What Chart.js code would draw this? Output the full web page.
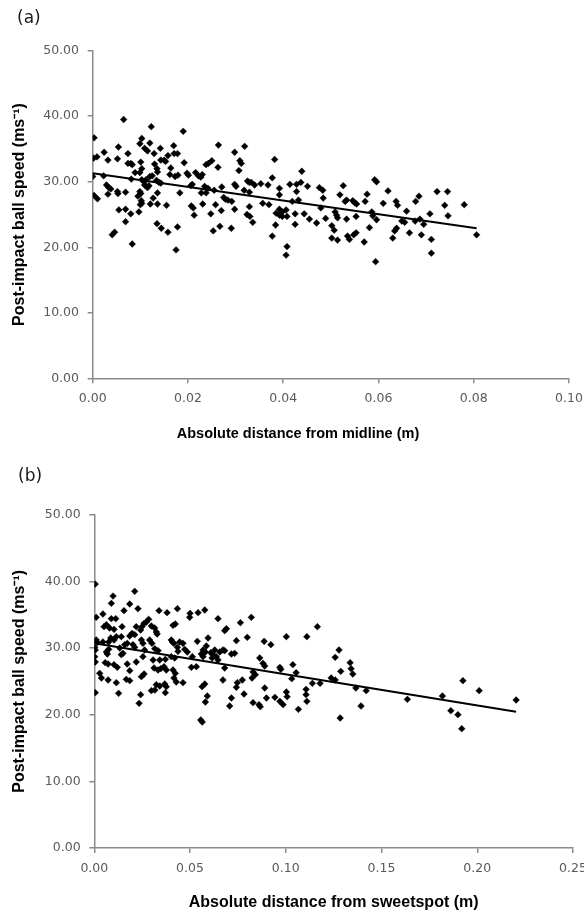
<!DOCTYPE html>
<html>
<head>
<meta charset="utf-8">
<style>
html,body{margin:0;padding:0;background:#fff;width:584px;height:915px;overflow:hidden;position:relative;}
canvas{position:absolute;left:0;}
#ca{top:0;}
#cb{top:460px;}
.lab{position:absolute;font-family:"DejaVu Sans";font-size:17px;line-height:17px;color:#1a1a1a;}
.xt{position:absolute;font-family:"Liberation Sans";font-weight:bold;color:#000;white-space:nowrap;transform:translate(-50%,-50%);}
</style>
<script src="https://cdn.jsdelivr.net/npm/chart.js@4/dist/chart.umd.min.js"></script>
</head>
<body>
<canvas id="ca" width="584" height="460"></canvas>
<canvas id="cb" width="584" height="455"></canvas>
<div class="lab" style="left:17px;top:8.5px">(a)</div>
<div class="lab" style="left:18px;top:466.5px">(b)</div>
<div class="xt" id="xta" style="left:298px;top:433px;font-size:14.5px;"></div>
<script>
// ---------- Panel (a): distance from midline ----------
const aX = [0.0065,0.0123,0.019,0.0003,0.0103,0.0099,0.012,0.017,0.0264,0.0319,0.0054,0.0109,0.0115,0.0142,0.0024,0.0074,0.0129,0.0171,0.0178,0.0298,
0.0158,0.0002,0.0009,0.0052,0.0032,0.0143,0.015,0.0153,0.025,0.0309,0.0312,0.0382,0.0074,0.008,0.0083,0.0101,0.013,0.0192,0.0238,0.0243,
0.0263,0.0164,0.0135,0.0136,0.0103,0.0307,0.0089,0.0099,0.0216,0.0198,0.0201,0.0162,0.0179,0.0173,0.0222,0.023,0.0227,0.0,0.0023,0.012,
0.0125,0.0081,0.0103,0.0108,0.0112,0.0377,0.0134,0.0139,0.0143,0.0325,0.0329,0.0333,0.0109,0.0118,0.0115,0.0209,0.0353,0.034,0.0368,0.0029,
0.0034,0.0298,0.0301,0.0206,0.0235,0.0242,0.0271,0.0392,0.0038,0.0255,0.0318,0.0052,0.0053,0.0099,0.0101,0.0228,0.0238,0.0329,0.0069,0.0183,
0.0136,0.0003,0.001,0.0032,0.0095,0.0127,0.0275,0.0279,0.0284,0.0392,0.0102,0.0103,0.01,0.0121,0.0136,0.0155,0.0231,0.0292,0.0357,0.037,
0.0207,0.0211,0.0213,0.0258,0.0298,0.0329,0.0324,0.033,0.0055,0.0069,0.008,0.0097,0.027,0.0248,0.0392,0.0398,0.0385,0.0392,0.0398,0.0406,
0.0408,0.0336,0.0069,0.0135,0.0144,0.0178,0.0158,0.0267,0.0253,0.0291,0.0384,0.0046,0.0041,0.0377,0.0083,0.0175,0.0408,0.0406,
0.0439,0.0414,0.0428,0.0437,0.0451,0.0476,0.0483,0.0526,0.0592,0.0596,0.0428,0.062,0.0723,0.0745,0.0484,0.0519,0.0576,0.0685,0.0419,0.0432,
0.053,0.0533,0.0546,0.055,0.0554,0.0572,0.061,0.0637,0.064,0.0678,0.0739,0.078,0.0479,0.0509,0.0512,0.0514,0.0586,0.0588,0.0596,0.0659,
0.0708,0.0746,0.0425,0.0444,0.0553,0.0533,0.0455,0.047,0.0489,0.0649,0.0655,0.0677,0.0687,0.0695,0.0425,0.0502,0.0507,0.0581,0.0638,0.0634,
0.0665,0.0553,0.0548,0.069,0.0535,0.0539,0.0502,0.0514,0.057,0.063,0.0711,0.0806,0.0711,0.0594];
const aY = [39.5,38.4,37.7,36.7,36.6,35.8,35.9,35.5,35.6,35.4,35.3,35.1,34.7,35.1,34.5,34.3,34.3,34.3,34.3,34.5,
34.0,33.6,33.8,33.5,33.3,33.3,33.3,33.1,33.2,33.2,32.8,33.4,32.8,32.8,32.6,33.0,32.7,32.9,32.6,32.8,
32.2,32.1,32.0,31.5,32.0,31.7,31.4,31.4,31.4,31.3,31.0,31.1,31.0,30.8,30.9,31.1,30.7,30.8,30.9,30.8,
30.9,30.4,30.3,30.0,30.3,30.6,30.2,29.9,29.8,30.1,29.9,29.9,29.5,29.4,29.1,29.6,29.7,29.5,29.5,29.5,
29.1,29.6,29.3,29.4,29.3,29.0,29.2,29.0,28.9,28.7,28.7,28.5,28.2,28.5,28.2,28.3,28.3,28.4,28.4,28.3,
28.3,27.9,27.4,28.1,27.8,27.5,27.6,27.3,27.2,28.0,27.1,26.7,26.5,26.6,26.6,26.4,26.6,27.0,26.7,26.5,
26.3,26.0,24.9,26.5,25.8,26.2,25.0,24.7,25.7,25.8,25.1,25.4,25.6,25.1,25.8,25.4,25.2,24.9,24.7,25.7,
24.7,23.8,23.9,23.6,22.9,23.1,22.3,23.2,22.5,22.9,23.4,22.3,21.9,21.7,20.5,19.6,20.1,18.8,
31.6,29.6,29.6,29.9,29.3,29.1,28.7,29.4,30.3,30.0,28.5,28.6,28.5,28.5,27.5,28.0,28.1,27.8,27.0,27.2,
27.0,27.2,27.1,26.8,26.6,27.0,26.7,27.0,26.4,27.0,26.4,26.5,26.0,25.4,24.9,24.5,25.4,24.8,24.2,25.5,
25.1,24.8,25.1,25.1,24.7,24.3,24.3,23.7,24.4,24.0,23.8,24.0,24.3,23.5,23.5,23.3,22.6,23.0,22.9,22.5,
22.2,22.2,21.9,21.9,21.7,21.2,21.4,21.1,20.8,21.4,21.2,21.9,19.1,17.8];
const aFitX = [0.0, 0.0806];
const aFitY = [31.3, 22.9];
const aXTicks = {min: 0, max: 0.10, step: 0.02};

// ---------- Panel (b): distance from sweetspot ----------
const bX = [0.0005,0.0211,0.0098,0.0089,0.0185,0.0155,0.0228,0.0338,0.038,0.0434,0.05,0.0498,0.0542,0.0577,0.001,0.0045,0.0089,0.0112,0.0284,0.0272,
0.026,0.0249,0.0242,0.0219,0.0063,0.0051,0.008,0.0103,0.0145,0.0298,0.0315,0.0324,0.0328,0.0411,0.0423,0.0646,0.0763,0.082,0.0681,0.069,
0.0197,0.0185,0.0211,0.0115,0.0141,0.0086,0.0103,0.0594,0.0799,0.1003,0.001,0.0016,0.0045,0.0075,0.0246,0.0254,0.0289,0.0301,0.0402,0.0408,
0.0416,0.0446,0.0463,0.0538,0.0742,0.0887,0.0922,0.0159,0.0172,0.0202,0.0211,0.0133,0.0002,0.0005,0.0075,0.0063,0.0068,0.0263,0.0316,0.0333,
0.0434,0.0437,0.0472,0.0486,0.0568,0.0585,0.058,0.0629,0.0655,0.0672,0.0681,0.0608,0.062,0.0637,0.0615,0.0646,0.0559,0.0568,0.0716,0.0733,
0.0002,0.0005,0.0141,0.015,0.0254,0.0307,0.0342,0.0371,0.0402,0.042,0.0512,0.0864,0.0057,0.0072,0.0103,0.012,0.0219,0.0172,0.0312,0.0347,
0.0364,0.0376,0.0333,0.0411,0.0423,0.0507,0.0533,0.0681,0.0881,0.089,0.0969,0.0974,0.0829,0.0841,0.0185,0.0028,0.0037,0.0072,0.0167,0.0185,
0.0246,0.026,0.0416,0.0428,0.0463,0.0577,0.0563,0.0672,0.0773,0.0747,0.0742,0.0824,0.0115,0.0324,0.0342,0.0368,0.0376,0.0298,0.0316,0.0371,
0.0005,0.0127,0.089,0.0782,0.1003,0.0242,0.0234,0.059,0.058,0.0716,0.0707,0.0829,0.086,0.0867,0.0899,0.0943,0.0969,0.0986,0.1007,0.0556,
0.0564,0.1165,0.111,0.1278,0.1258,0.1037,0.1054,0.1031,0.1336,0.1341,0.135,0.1287,0.1237,0.1258,0.1139,0.1179,0.1366,0.142,0.1106,0.1106,
0.111,0.1066,0.1393,0.1284,0.1635,0.1818,0.1925,0.201,0.1862,0.1899,0.1919,0.2203];
const bY = [39.6,38.5,37.8,36.7,36.6,35.6,35.9,35.6,35.3,35.9,35.2,34.6,35.3,35.7,34.6,35.1,34.4,34.4,34.3,33.9,
33.7,33.2,32.7,33.2,33.5,33.2,33.0,32.8,33.2,33.3,33.0,32.4,32.1,33.4,33.6,34.4,33.8,34.6,32.6,32.9,
32.2,31.8,32.0,31.7,31.7,31.5,31.2,31.5,31.6,31.7,31.2,30.8,30.9,30.9,31.2,30.7,31.2,30.7,31.2,30.9,
30.7,30.9,30.7,31.0,31.1,31.0,30.5,30.5,30.7,30.5,30.1,30.0,30.1,29.7,29.8,29.4,29.1,29.7,29.9,29.6,
30.1,29.5,29.8,29.4,29.7,30.3,29.4,29.7,29.4,29.7,29.6,29.3,29.0,28.7,28.5,28.2,29.1,28.7,29.1,29.2,
28.7,27.9,29.0,29.2,28.7,28.2,28.2,28.3,28.7,28.5,28.7,28.5,27.8,27.6,27.5,27.1,27.9,27.6,27.0,26.9,
27.2,26.7,26.7,26.7,26.2,27.1,27.2,27.0,27.7,27.3,27.1,26.8,26.4,26.0,26.6,26.2,25.5,25.2,25.3,25.1,
25.7,26.1,25.5,24.9,24.8,24.6,24.2,25.2,25.2,24.8,24.1,25.5,24.8,24.5,24.3,24.6,24.2,23.6,23.7,23.3,
23.3,23.2,24.0,23.1,23.4,23.0,21.7,22.8,21.9,22.5,21.3,21.8,21.5,21.2,22.5,22.6,22.0,21.5,22.7,19.2,
18.9,33.2,31.7,29.7,28.6,27.5,26.3,25.4,27.8,26.9,26.1,26.5,25.5,25.2,24.7,24.7,24.0,23.6,23.8,23.0,
22.0,20.8,21.3,19.5,22.3,22.8,25.1,23.6,20.6,20.0,17.9,22.2];
const bFitX = [0.0, 0.2203];
const bFitY = [30.7, 20.45];
const bXTicks = {min: 0, max: 0.25, step: 0.05};

const yTicks = {min: 0, max: 50, step: 10};
const yTitle = 'Post-impact ball speed (ms\u207B\u00B9)';
const aXTitle = 'Absolute distance from midline (m)';
const bXTitle = 'Absolute distance from sweetspot (m)';

document.getElementById('xta').textContent = aXTitle;

const AXIS = '#8a8a8a';
const TICKTXT = '#595959';

function pairs(xs, ys){ return xs.map((x,i)=>({x:x, y:ys[i]})); }

function build(id, xs, ys, fx, fy, xt, xTitle, geom){
  new Chart(document.getElementById(id), {
    type: 'scatter',
    data: { datasets: [
      { data: pairs(fx, fy), showLine: true, borderColor: '#000', borderWidth: 2, pointRadius: 0, fill: false, order: 0 },
      { data: pairs(xs, ys), pointStyle: 'rectRot', pointRadius: 3.4, backgroundColor: '#000', borderColor: '#000', borderWidth: 0.4, order: 1 }
    ]},
    options: {
      responsive: false, animation: false, devicePixelRatio: 1,
      plugins: { legend: {display:false}, tooltip: {enabled:false} },
      layout: { padding: { left: 0, top: geom.top, right: geom.right, bottom: geom.bottom } },
      scales: {
        x: {
          type: 'linear', min: xt.min, max: xt.max,
          afterFit: s => { s.height = geom.xH; s.paddingLeft = 0; s.paddingRight = 0; },
          ticks: { stepSize: xt.step, callback: v => Number(v).toFixed(2), color: TICKTXT,
                   font: {family: 'DejaVu Sans', size: 12.5}, padding: 8, maxRotation: 0, autoSkip: false },
          grid: { display: true, drawOnChartArea: false, drawTicks: true, tickLength: 5, color: AXIS, lineWidth: 1.5 },
          border: { display: true, color: AXIS, width: 1.5 },
          title: { display: geom.showXTitle, text: xTitle, color: '#000', padding: 0,
                   font: {family: 'Liberation Sans', weight: 'bold', size: 16} }
        },
        y: {
          type: 'linear', min: yTicks.min, max: yTicks.max,
          afterFit: s => { s.width = geom.yW; s.paddingTop = 0; s.paddingBottom = 0; },
          ticks: { stepSize: yTicks.step, callback: v => Number(v).toFixed(2), color: TICKTXT,
                   font: {family: 'DejaVu Sans', size: 12.5}, padding: 8.7 },
          grid: { display: true, drawOnChartArea: false, drawTicks: true, tickLength: 5, color: AXIS, lineWidth: 1.5 },
          border: { display: true, color: AXIS, width: 1.5 },
          title: { display: true, text: yTitle, color: '#000', padding: {top: 10, bottom: 0},
                   font: {family: 'Liberation Sans', weight: 'bold', size: 16} }
        }
      }
    }
  });
}

build('ca', aX, aY, aFitX, aFitY, aXTicks, aXTitle, {top: 50.7, right: 15, bottom: 17.4, xH: 64.3, yW: 92.7, showXTitle: false});
build('cb', bX, bY, bFitX, bFitY, bXTicks, bXTitle, {top: 54.7, right: 11, bottom: 2.7, xH: 64.3, yW: 94.3, showXTitle: true});
</script>
</body>
</html>
